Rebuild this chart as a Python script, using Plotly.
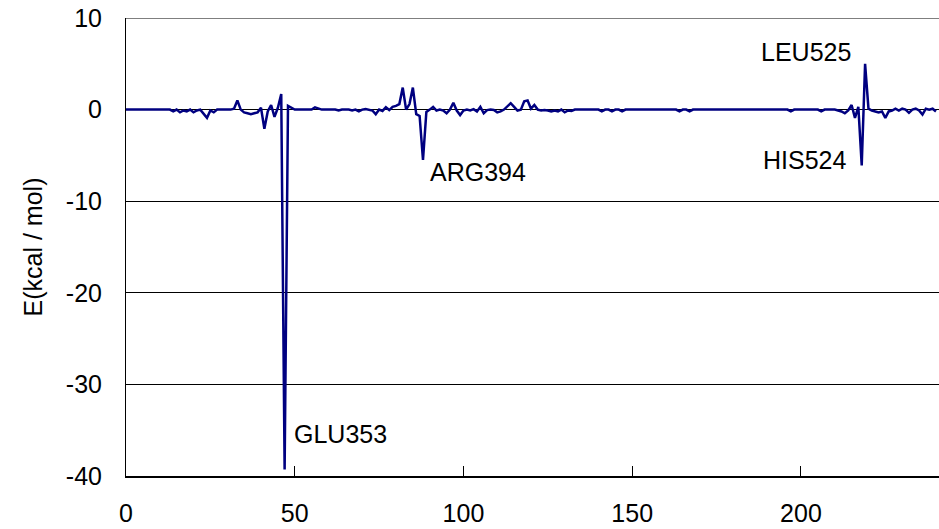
import plotly.graph_objects as go

energy = [
    0, 0, 0, 0, 0, 0, 0, 0, 0, 0,
    0, 0, 0, 0, -0.2, 0, -0.3, -0.1, -0.2, 0,
    -0.3, -0.1, 0, -0.4, -0.9, -0.1, -0.3, 0, 0, 0,
    0, 0, 0.1, 1.0, 0, -0.3, -0.4, -0.5, -0.4, -0.3,
    0.2, -2.1, -0.2, 0.5, -0.8, 0.2, 1.7, -39.3, 0.4, 0.2,
    0, 0, 0, 0, 0, 0, 0.25, 0.1, 0, 0,
    0, 0, 0, -0.1, 0, 0, 0, -0.1, 0, -0.2,
    0, 0.05, 0, -0.1, -0.5, 0, -0.15, 0.25, -0.05, 0.3,
    0.4, 0.6, 2.4, 0.0, 0.6, 2.4, -0.5, -0.7, -5.5, -0.25,
    0, 0.3, -0.1, 0, -0.1, -0.4, 0, 0.75, -0.1, -0.6,
    -0.1, 0, -0.1, 0.05, -0.2, 0.3, -0.4, -0.05, 0, -0.05,
    -0.3, -0.2, 0, 0.3, 0.7, 0.3, -0.1, 0, 0.9, 1.0,
    0.1, 0.5, 0, -0.1, -0.05, -0.1, -0.2, -0.1, -0.2, 0,
    -0.3, -0.1, -0.15, 0, 0, 0, 0, 0, 0, 0,
    0, -0.2, 0, 0, -0.2, 0, 0, -0.2, 0, 0,
    0, 0, 0, 0, 0, 0, 0, 0, 0, 0,
    0, 0, 0, 0, -0.2, 0, 0, -0.2, 0, 0,
    0, 0, 0, 0, 0, 0, 0, 0, 0, 0,
    0, 0, 0, 0, 0, 0, 0, 0, 0, 0,
    0, 0, 0, 0, 0, 0, 0, -0.2, 0, 0,
    0, 0, 0, 0, 0, 0, -0.2, 0, 0, 0,
    0, -0.1, -0.2, -0.4, -0.1, 0.5, -0.9, 0.3, -6.1, 5.0,
    0.1, -0.1, -0.2, -0.3, -0.2, -0.9, -0.2, -0.1, 0.1, -0.1,
    0.1, 0, -0.35, 0, 0.1, -0.1, -0.55, 0.1, 0, 0.1, -0.2,
]
residue_index = list(range(len(energy)))

x_tick_vals = [0, 50, 100, 150, 200]
x_tick_text = ["0", "50", "100", "150", "200"]
y_tick_vals = [10, 0, -10, -20, -30, -40]
y_tick_text = ["10", "0", "-10", "-20", "-30", "-40"]

labels = ["GLU353", "ARG394", "LEU525", "HIS524"]
label_x = [49.2, 89.5, 215.4, 213.9]
label_y = [-35.4, -6.8, 6.3, -5.45]
label_anchor = ["left", "left", "right", "right"]

FONT = "Liberation Sans, Arial, sans-serif"

fig = go.Figure()
fig.add_trace(go.Scatter(
    x=residue_index, y=energy, mode="lines",
    line=dict(color="#000080", width=2.5),
    showlegend=False, hoverinfo="x+y",
))

for t, lx, ly, anc in zip(labels, label_x, label_y, label_anchor):
    fig.add_annotation(x=lx, y=ly, xref="x", yref="y", text=t, showarrow=False,
                       xanchor=anc, yanchor="middle",
                       font=dict(family=FONT, size=25, color="black"))

# top gridline at the upper edge of the y range
fig.add_shape(type="line", xref="paper", x0=0, x1=1, yref="y",
              y0=y_tick_vals[0], y1=y_tick_vals[0],
              line=dict(color="black", width=1), layer="below")

fig.update_layout(
    width=939, height=529,
    margin=dict(l=126, r=0, t=18, b=53, autoexpand=False),
    paper_bgcolor="white", plot_bgcolor="white",
    font=dict(family=FONT, size=25, color="black"),
    xaxis=dict(
        range=[0, 240.9], tickvals=x_tick_vals, ticktext=x_tick_text,
        ticks="inside", ticklen=10, tickwidth=1, tickcolor="black",
        showline=True, linecolor="black", linewidth=2,
        showgrid=False, zeroline=False, ticklabelstandoff=14,
        automargin=False,
        tickfont=dict(family=FONT, size=25, color="black"),
    ),
    yaxis=dict(
        range=[-40, 10], tickvals=y_tick_vals, ticktext=y_tick_text,
        ticks="", showline=True, linecolor="black", linewidth=1,
        showgrid=True, gridcolor="black", gridwidth=1,
        zeroline=True, zerolinecolor="black", zerolinewidth=1,
        ticklabelstandoff=18, automargin=False,
        ticklabeloverflow="allow",
        tickfont=dict(family=FONT, size=25, color="black"),
        title=dict(text="E(kcal / mol)", standoff=16,
                   font=dict(family=FONT, size=25, color="black")),
    ),
)

fig.write_html("out.html",
               config={"displayModeBar": False},
               post_script="document.body.style.margin='0';document.body.style.overflow='hidden';")
